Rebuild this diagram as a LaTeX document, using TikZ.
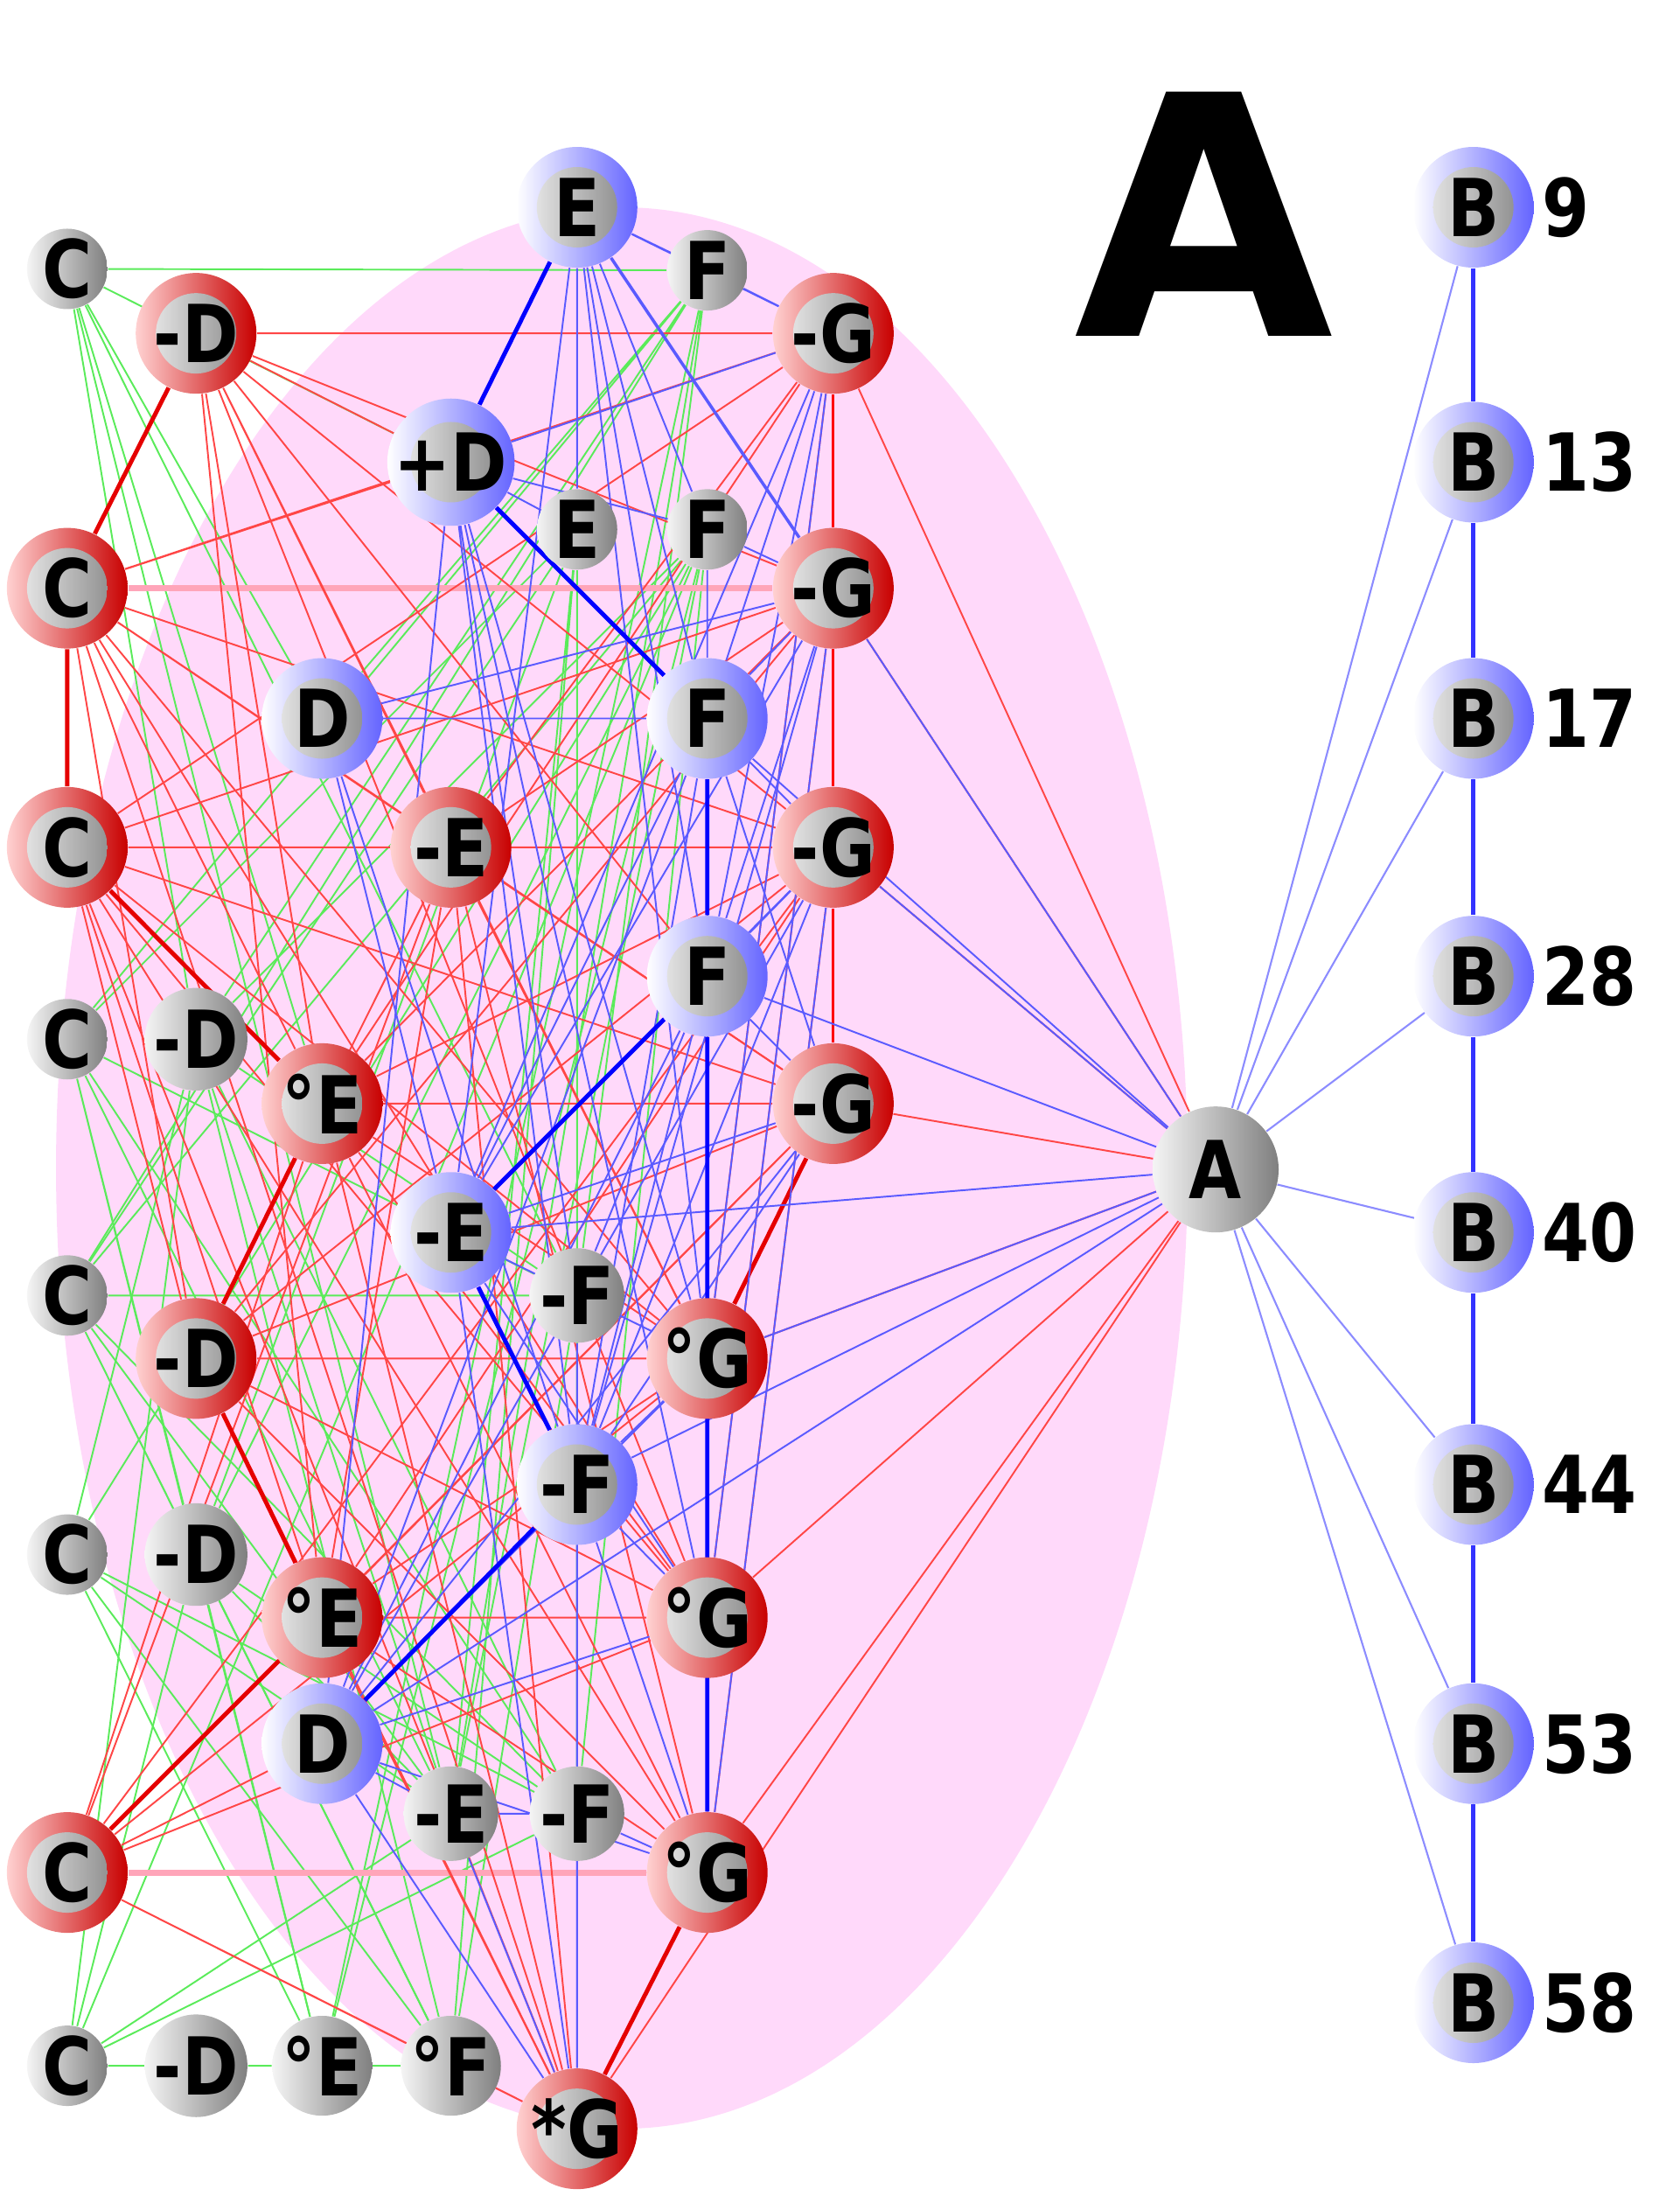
\documentclass[tikz,border=0pt]{standalone}
\usepackage{fontspec}
\setmainfont{DejaVu Sans}
\newfontfamily\lblfont{DejaVu Sans}[FakeStretch=0.85]
\usetikzlibrary{backgrounds,positioning}
\definecolor{ballred}{RGB}{200,0,0}
\definecolor{ballblue}{RGB}{100,100,255}
\definecolor{edgered}{RGB}{255,70,70}
\definecolor{edgegreen}{RGB}{90,235,90}
\definecolor{edgeblue}{RGB}{90,90,255}
\definecolor{ellpink}{RGB}{255,217,250}
\definecolor{linkpink}{RGB}{255,165,185}

\tikzset{
  ball/.style={circle, inner sep=0pt, text=black, font=\lblfont\bfseries\fontsize{26}{26}\selectfont},
  redball/.style={ball, minimum size=1.38cm, left color=red!18, right color=ballred,
    path picture={\shade[left color=gray!8, right color=gray] (path picture bounding box.center) circle (0.46cm);}},
  blueball/.style={ball, minimum size=1.38cm, left color=white, right color=ballblue,
    path picture={\shade[left color=gray!8, right color=gray] (path picture bounding box.center) circle (0.46cm);}},
  grayball/.style={ball, minimum size=0.92cm, left color=gray!8, right color=gray},
  numlbl/.style={inner sep=0pt, font=\lblfont\bfseries\fontsize{26}{26}\selectfont},
  rthin/.style={edgered, line width=0.55pt},
  rthick/.style={red!90!black, line width=1.4pt},
  pinkline/.style={linkpink, line width=2pt},
  gthin/.style={edgegreen, line width=0.55pt},
  bthin/.style={edgeblue, line width=0.55pt},
  bthick/.style={blue, line width=1.4pt},
  bedge/.style={blue!45, line width=0.6pt},
  bchain/.style={blue!80, line width=1.4pt}
}

\begin{document}
\begin{tikzpicture}[x=0.16014mm, y=-0.16014mm]
\useasboundingbox (0,0) rectangle (1199,1568);

% nodes of the left cluster
\node[grayball] (c1) at (48,192) {C};
\node[redball] (c2) at (48,420) {C};
\node[redball] (c3) at (48,605) {C};
\node[grayball] (c4) at (48,742) {C};
\node[grayball] (c5) at (48,925) {C};
\node[grayball] (c6) at (48,1110) {C};
\node[redball] (c7) at (48,1337) {C};
\node[grayball] (c8) at (48,1475) {C};
\node[redball] (d1) at (140,238) {-D};
\node[grayball] (d2) at (140,742) {-D};
\node[redball] (d3) at (140,970) {-D};
\node[grayball] (d4) at (140,1110) {-D};
\node[grayball] (d5) at (140,1475) {-D};
\node[blueball] (dd1) at (230,513) {D};
\node[redball] (e1) at (230,788) {°E};
\node[redball] (e2) at (230,1155) {°E};
\node[blueball] (dd2) at (230,1245) {D};
\node[grayball] (e3) at (230,1475) {°E};
\node[blueball] (pd) at (322,330) {+D};
\node[redball] (me1) at (322,605) {-E};
\node[blueball] (me2) at (322,880) {-E};
\node[grayball] (me3) at (322,1295) {-E};
\node[grayball] (of) at (322,1475) {°F};
\node[blueball] (ee1) at (412,148) {E};
\node[grayball] (ee2) at (412,378) {E};
\node[grayball] (mf1) at (412,925) {-F};
\node[blueball] (mf2) at (412,1060) {-F};
\node[grayball] (mf3) at (412,1295) {-F};
\node[redball] (sg) at (412,1520) {*G};
\node[grayball] (f1) at (505,193) {F};
\node[grayball] (f2) at (505,378) {F};
\node[blueball] (f3) at (505,513) {F};
\node[blueball] (f4) at (505,697) {F};
\node[redball] (og1) at (505,970) {°G};
\node[redball] (og2) at (505,1155) {°G};
\node[redball] (og3) at (505,1337) {°G};
\node[redball] (mg1) at (595,238) {-G};
\node[redball] (mg2) at (595,420) {-G};
\node[redball] (mg3) at (595,605) {-G};
\node[redball] (mg4) at (595,788) {-G};

% hub and chain
\node[grayball, minimum size=1.44cm] (a) at (868,835) {A};
\node[blueball] (b1) at (1052,148) {B};
\node[blueball] (b2) at (1052,330) {B};
\node[blueball] (b3) at (1052,513) {B};
\node[blueball] (b4) at (1052,697) {B};
\node[blueball] (b5) at (1052,880) {B};
\node[blueball] (b6) at (1052,1060) {B};
\node[blueball] (b7) at (1052,1245) {B};
\node[blueball] (b8) at (1052,1430) {B};
\node[numlbl, right=0.08cm of b1] (n1) {9};
\node[numlbl, right=0.08cm of b2] (n2) {13};
\node[numlbl, right=0.08cm of b3] (n3) {17};
\node[numlbl, right=0.08cm of b4] (n4) {28};
\node[numlbl, right=0.08cm of b5] (n5) {40};
\node[numlbl, right=0.08cm of b6] (n6) {44};
\node[numlbl, right=0.08cm of b7] (n7) {53};
\node[numlbl, right=0.08cm of b8] (n8) {58};

\node[inner sep=0pt, font=\bfseries\fontsize{109}{110}\selectfont] (title) at (860,153) {A};

\begin{scope}[on background layer]
\fill[ellpink] (444,834) ellipse [x radius=404, y radius=686];

% green links
\draw[gthin] (c1)--(f1) (c1)--(pd) (c1)--(d2) (c1)--(e1) (c1)--(mf1) (c1)--(me3) (c1)--(dd1);
\draw[gthin] (f1)--(c4) (f1)--(d2) (f1)--(me3) (f1)--(mf1) (f1)--(c5) (f1)--(dd1) (f1)--(e3);
\draw[gthin] (ee2)--(mf1) (ee2)--(me3) (ee2)--(mf3) (ee2)--(c5) (ee2)--(d4) (ee2)--(c4) (ee2)--(of);
\draw[gthin] (f2)--(c5) (f2)--(c6) (f2)--(d4) (f2)--(e3) (f2)--(me3) (f2)--(mf3) (f2)--(c8) (f2)--(d2);
\draw[gthin] (c4)--(mf1) (c4)--(me3) (c4)--(mf3) (c4)--(d4) (c4)--(e3);
\draw[gthin] (d2)--(mf3) (d2)--(me3) (d2)--(c6) (d2)--(of) (d2)--(mf1);
\draw[gthin] (c5)--(mf1) (c5)--(d4) (c5)--(of) (c5)--(me3) (c5)--(mf3);
\draw[gthin] (c6)--(e3) (c6)--(of) (c6)--(mf3) (c6)--(me3);
\draw[gthin] (d4)--(of) (d4)--(mf3) (d4)--(e3) (d4)--(me3);
\draw[gthin] (c8)--(d5) (d5)--(e3) (e3)--(of) (c8)--(d2) (c8)--(mf3) (c8)--(d4) (c8)--(me3);
\draw[gthin] (mf1)--(mf3) (mf1)--(of);

% red links
\draw[pinkline] (c2)--(mg2) (c7)--(og3);
\draw[rthin] (d1)--(mg1) (d1)--(me1) (d1)--(e1) (d1)--(og1) (d1)--(mg3) (d1)--(f4) (d1)--(mg2) (d1)--(e2) (d1)--(pd) (d1)--(og2);
\draw[rthin] (c2)--(mg1) (c2)--(me1) (c2)--(e1) (c2)--(d3) (c2)--(og2) (c2)--(mg3) (c2)--(mg4) (c2)--(sg) (c2)--(og1) (c2)--(pd);
\draw[rthin] (c3)--(d3) (c3)--(e2) (c3)--(og1) (c3)--(mg2) (c3)--(og2) (c3)--(og3) (c3)--(mg4) (c3)--(mg1) (c3)--(sg) (c3)--(mg3);
\draw[rthin] (me1)--(mg1) (me1)--(mg2) (me1)--(og1) (me1)--(e2) (me1)--(d3) (me1)--(og3) (me1)--(c7) (me1)--(mg4) (me1)--(sg);
\draw[rthin] (e1)--(og1) (e1)--(og2) (e1)--(sg) (e1)--(mg3) (e1)--(mg1) (e1)--(mg2) (e1)--(c7) (e1)--(og3) (e1)--(mg4);
\draw[rthin] (d3)--(og1) (d3)--(mg4) (d3)--(og2) (d3)--(og3) (d3)--(sg) (d3)--(mg3) (d3)--(mg2);
\draw[rthin] (e2)--(og2) (e2)--(og3) (e2)--(sg) (e2)--(mg4) (e2)--(og1) (e2)--(mg3);
\draw[rthin] (c7)--(sg) (c7)--(of) (c7)--(og2) (c7)--(og1) (c7)--(mg4) (c7)--(mg3) (c7)--(dd2) (of)--(sg);
\draw[rthin] (mg1)--(og1) (mg2)--(og2) (mg3)--(og3) (og1)--(og2) (og2)--(og3);
\draw[rthin] (mg1)--(a) (mg2)--(a) (mg3)--(a) (mg4)--(a) (og1)--(a) (og2)--(a) (og3)--(a) (sg)--(a);
\draw[red, line width=0.9pt] (mg1)--(mg2) (mg2)--(mg3) (mg3)--(mg4);
\draw[rthick] (d1)--(c2) (c2)--(c3) (c3)--(e1) (e1)--(d3) (d3)--(e2) (e2)--(c7) (og1)--(mg4) (og3)--(sg);

% blue links
\draw[bthin] (ee1)--(f1) (ee1)--(f3) (ee1)--(f4) (ee1)--(ee2) (ee1)--(me2) (ee1)--(f2) (ee1)--(mg1) (ee1)--(og1);
\draw[bthin] (pd)--(mg1) (pd)--(ee2) (pd)--(mf2) (pd)--(og1) (pd)--(dd2) (pd)--(mf1) (pd)--(f2) (pd)--(og2);
\draw[bthin] (f1)--(mg1) (f2)--(mg2) (f2)--(f3) (dd1)--(mg2) (dd1)--(mf2) (dd1)--(f3) (dd1)--(me2);
\draw[bthin] (f3)--(mg1) (f3)--(mg2) (f3)--(mg3) (f3)--(mg4) (f3)--(me2) (f3)--(mf2) (f3)--(dd2) (f3)--(og1) (f3)--(og2) (f3)--(a);
\draw[bthin] (f4)--(mg1) (f4)--(mg2) (f4)--(mg3) (f4)--(mg4) (f4)--(mf2) (f4)--(dd2) (f4)--(a) (f4)--(og2) (f4)--(mf1);
\draw[bthin] (me2)--(mg2) (me2)--(mg3) (me2)--(og1) (me2)--(og2) (me2)--(a) (me2)--(sg) (me2)--(mg4) (me2)--(mg1);
\draw[bthin] (mf2)--(mg3) (mf2)--(og1) (mf2)--(og2) (mf2)--(og3) (mf2)--(sg) (mf2)--(mg4) (mf2)--(a) (mf2)--(mg2);
\draw[bthin] (dd2)--(sg) (dd2)--(og1) (dd2)--(og2) (dd2)--(mg4) (dd2)--(me3) (dd2)--(og3) (dd2)--(a) (dd2)--(mg3);
\draw[bthin] (mf3)--(og3) (me3)--(mf3) (mf3)--(sg) (me3)--(sg) (mf1)--(sg) (mg1)--(og1) (mg2)--(og2) (mg3)--(og3);
\draw[bthin] (mg2)--(a) (mg3)--(a) (og1)--(a) (og1)--(og2) (og2)--(og3);
\draw[bthick] (ee1)--(pd) (pd)--(f3) (f3)--(f4) (f4)--(og3) (f4)--(me2) (me2)--(mf2) (mf2)--(dd2);
\draw[bthin, line width=1pt] (ee1)--(mg2);

% hub to chain
\draw[bedge] (a)--(b1) (a)--(b2) (a)--(b3) (a)--(b4) (a)--(b5) (a)--(b6) (a)--(b7) (a)--(b8);
\draw[bchain] (b1)--(b2)--(b3)--(b4)--(b5)--(b6)--(b7)--(b8);
\end{scope}
\end{tikzpicture}
\end{document}
